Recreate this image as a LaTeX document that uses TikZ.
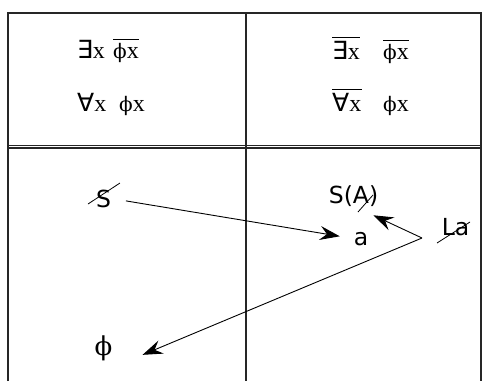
\documentclass[tikz,border=0pt]{standalone}
\usepackage{fontspec}
\setmainfont{Liberation Serif}
\newfontfamily\sansf{DejaVu Sans}
\newfontfamily\quantf{DejaVu Sans}
\newfontfamily\phif{DejaVu Serif}
\usetikzlibrary{arrows.meta}
\newcommand\qEx{{\quantf\fontsize{25}{25}\selectfont ∃}}
\newcommand\qAll{{\quantf\fontsize{25}{25}\selectfont ∀}}
\newcommand\phx{{\phif\fontsize{20}{20}\selectfont ϕ}{\fontsize{24}{24}\selectfont x}}
\newcommand\vx{{\fontsize{24}{24}\selectfont x}}
\begin{document}
\begin{tikzpicture}[x=1pt,y=-1pt,
  grid/.style={line width=1.1pt, draw=black!85},
  sym/.style={inner sep=0pt, anchor=base west},
  lab/.style={inner sep=0pt, anchor=base, font=\sansf\fontsize{23.5}{24}\selectfont},
  arr/.style={line width=0.9pt, -{Stealth[length=20pt,width=14pt,inset=7pt]}},
  strike/.style={line width=0.8pt},
  bar/.style={line width=0.9pt}]
\useasboundingbox (0,0) rectangle (482,381);
% frame
\draw[grid] (8,381) -- (8,13) -- (481,13) -- (481,381);
\draw[grid] (246,13) -- (246,381);
\draw[grid] (8,145.5) -- (481,145.5);
\draw[grid] (8,148) -- (481,148);
% top left cell
\node[sym] (e1) at (77,58) {\qEx\vx};
\node[sym] (f1) at (113,58) {\phx};
\node[sym] (a2) at (77,111) {\qAll\vx};
\node[sym] (f2) at (119,111) {\phx};
\draw[bar] ([yshift=3pt]f1.north west) -- ([yshift=3pt]f1.north east);
% top right cell
\node[sym] (e3) at (332,59) {\qEx\vx};
\node[sym] (f3) at (383,59) {\phx};
\node[sym] (a4) at (332,111) {\qAll\vx};
\node[sym] (f4) at (383,111) {\phx};
\draw[bar] ([yshift=3pt]e3.north west) -- ([yshift=3pt]e3.north east);
\draw[bar] ([yshift=3pt]f3.north west) -- ([yshift=3pt]f3.north east);
\draw[bar] ([yshift=3pt]a4.north west) -- ([yshift=3pt]a4.north east);
% bottom labels
\node[lab] (S) at (103.5,207) {S};
\node[lab] (SA) at (353.5,203) {S(A)};
\node[lab] (a) at (361,245) {a};
\node[lab] (La) at (455.5,235) {La};
\node[inner sep=0pt, anchor=base, font=\phif\fontsize{26}{26}\selectfont] (phi) at (103.5,355) {ϕ};
\coordinate (v) at (422,238);
% strikes
\draw[strike] (88,204) -- (120,183);
\draw[strike] (358,212) -- (373,195);
\draw[strike] (437,243) -- (470,222);
% arrows
\draw[arr, shorten <=15pt, shorten >=14pt] (S.east) -- (a.west);
\draw[arr] (v) -- ([xshift=-5pt,yshift=-9pt]SA.south east);
\draw[arr] (v) -- ([xshift=30pt,yshift=-7pt]phi.east);
\end{tikzpicture}
\end{document}
